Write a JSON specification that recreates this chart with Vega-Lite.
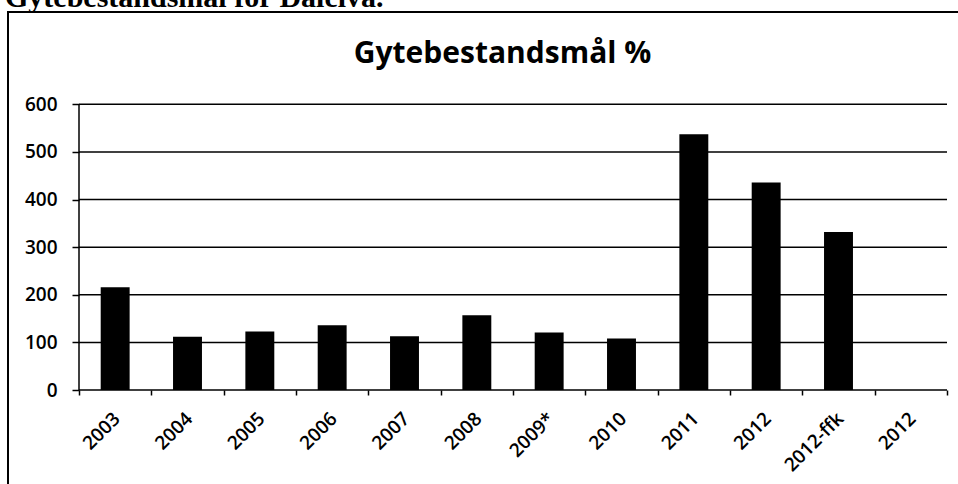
{
  "$schema": "https://vega.github.io/schema/vega-lite/v6.json",
  "autosize": {"type": "none"},
  "padding": {"left": 8, "top": 12, "right": 0, "bottom": 0},
  "width": 960,
  "height": 480,
  "background": "white",
  "title": {
    "text": "Gytebestandsmål for Dalelva.",
    "anchor": "start",
    "frame": "group",
    "font": "Liberation Serif",
    "fontSize": 30,
    "fontWeight": "bold",
    "color": "black",
    "baseline": "alphabetic",
    "dx": -3,
    "offset": -25
  },
  "config": {
    "view": {"stroke": "black", "strokeWidth": 2}
  },
  "layer": [
    {
      "data": {"values": [{"v": 0}, {"v": 100}, {"v": 200}, {"v": 300}, {"v": 400}, {"v": 500}, {"v": 600}]},
      "mark": {"type": "rule", "color": "black", "strokeWidth": 1.5},
      "encoding": {
        "y": {"field": "v", "type": "quantitative", "title": null, "scale": {"domain": [-214.2, 793.8], "nice": false, "zero": false}},
        "x": {
          "datum": 0,
          "type": "quantitative",
          "scale": {"domain": [-0.98157, 12.2903], "nice": false, "zero": false},
          "axis": {
            "orient": "top",
            "offset": -54,
            "domain": false,
            "ticks": false,
            "labels": false,
            "grid": false,
            "title": "Gytebestandsmål %",
            "titleFont": "Open Sans",
            "titleFontSize": 30,
            "titleFontWeight": "bold",
            "titleColor": "black",
            "titlePadding": 4,
            "titleBaseline": "alphabetic",
            "titleAlign": "center",
            "titleX": 494
          }
        },
        "x2": {"datum": 12}
      }
    },
    {
      "data": {"values": [{"v": 0}]},
      "mark": {"type": "rule", "color": "black", "strokeWidth": 1.5},
      "encoding": {
        "x": {"datum": 0, "type": "quantitative", "scale": {"domain": [-0.98157, 12.2903], "nice": false, "zero": false}, "axis": null},
        "y": {"datum": 0, "type": "quantitative", "title": null},
        "y2": {"datum": 600}
      }
    },
    {
      "data": {
        "values": [
          {"key": "2003", "value": 216},
          {"key": "2004", "value": 112},
          {"key": "2005", "value": 123},
          {"key": "2006", "value": 136},
          {"key": "2007", "value": 113},
          {"key": "2008", "value": 157},
          {"key": "2009*", "value": 121},
          {"key": "2010", "value": 108},
          {"key": "2011", "value": 537},
          {"key": "2012", "value": 436},
          {"key": "2012-ffk", "value": 332},
          {"key": "2012 ", "value": 0}
        ]
      },
      "mark": {"type": "bar", "color": "black", "width": {"band": 0.4}},
      "encoding": {
        "x": {
          "field": "key",
          "type": "nominal",
          "sort": null,
          "scale": {"paddingInner": 0, "paddingOuter": 0.63594, "align": 0.77174},
          "axis": {
            "orient": "bottom",
            "offset": -102,
            "domain": false,
            "ticks": true,
            "tickBand": "extent",
            "tickSize": 5,
            "tickColor": "black",
            "tickWidth": 1.5,
            "labelAngle": -45,
            "labelFont": "Open Sans",
            "labelFontSize": 19,
            "labelFontWeight": 600,
            "labelColor": "black",
            "labelPadding": 14,
            "labelOffset": -5,
            "labelExpr": "trim(datum.label)",
            "title": null
          }
        },
        "y": {
          "field": "value",
          "type": "quantitative",
          "scale": {"domain": [-214.2, 793.8], "nice": false, "zero": false},
          "axis": {
            "values": [0, 100, 200, 300, 400, 500, 600],
            "grid": false,
            "domain": false,
            "ticks": true,
            "tickSize": 7,
            "tickColor": "black",
            "tickWidth": 1.5,
            "offset": -71,
            "labelFont": "Open Sans",
            "labelFontSize": 19,
            "labelFontWeight": 600,
            "labelColor": "black",
            "labelPadding": 15,
            "title": null
          }
        },
        "y2": {"datum": 0}
      }
    }
  ],
  "resolve": {"scale": {"x": "independent"}, "axis": {"x": "independent"}}
}
